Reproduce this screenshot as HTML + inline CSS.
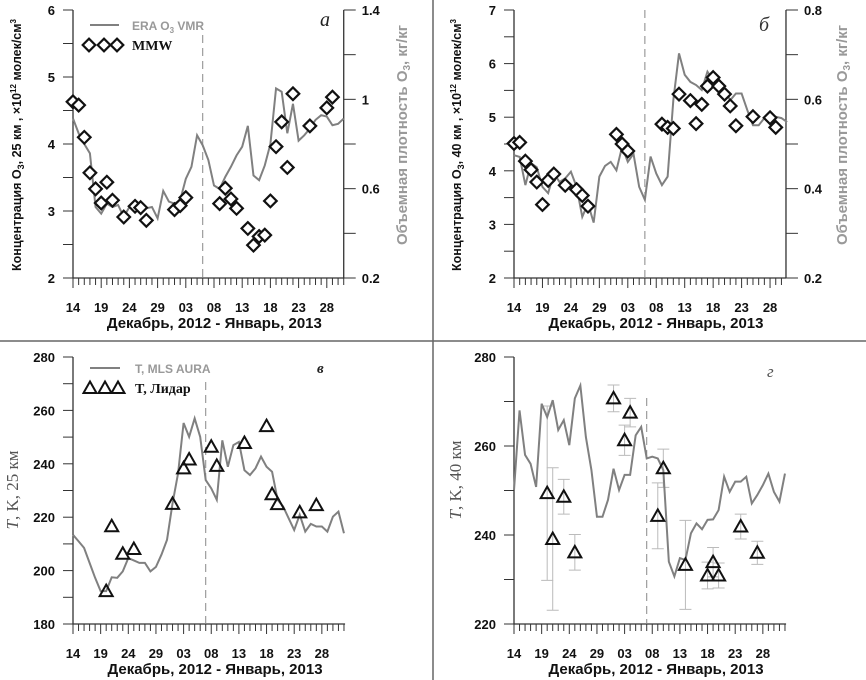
<!DOCTYPE html>
<html><head><meta charset="utf-8">
<style>
html,body{margin:0;padding:0;background:#fff;}
svg{display:block;font-family:"Liberation Sans",sans-serif;}
.tk{font-weight:bold;font-size:13px;fill:#111;}
.xt{font-weight:bold;font-size:15px;fill:#111;}
</style></head>
<body>
<svg id="fig" width="866" height="680" viewBox="0 0 866 680">
<line x1="433" y1="0" x2="433" y2="680" stroke="#666" stroke-width="1.5"/>
<line x1="0" y1="341" x2="866" y2="341" stroke="#666" stroke-width="1.5"/>
</svg>
<script>
// ---- Panel a data ----
const aDays = [0,1,2,3,4,5,6,7,9,11,12,13,18,19,20,26,27,28,29,31,32,33,34,35,36,37,38,39,42,45,46];
const aMMW = [4.63,4.58,4.10,3.57,3.33,3.12,3.43,3.16,2.91,3.07,3.05,2.86,3.02,3.08,3.2,3.11,3.34,3.18,3.04,2.74,2.49,2.62,2.64,3.15,3.96,4.33,3.65,4.75,4.27,4.54,4.7];
const aERA = [0.914,0.848,0.80,0.758,0.518,0.488,0.533,0.518,0.527,0.473,0.518,0.533,0.488,0.512,0.518,0.467,0.59,0.542,0.533,0.548,0.644,0.698,0.839,0.794,0.728,0.614,0.599,0.653,0.698,0.749,0.788,0.881,0.659,0.638,0.704,0.80,1.049,1.034,0.848,0.98,0.815,0.839,0.869,0.908,0.929,0.923,0.884,0.89,0.914];
// ---- Panel b data ----
const bDays = [0,1,2,3,4,5,6,7,9,11,12,13,18,19,20,26,27,28,29,31,32,33,34,35,36,37,38,39,42,45,46];
const bMMW = [4.51,4.53,4.18,4.02,3.79,3.37,3.82,3.94,3.73,3.65,3.54,3.34,4.68,4.50,4.37,4.87,4.81,4.79,5.43,5.31,4.88,5.24,5.58,5.74,5.58,5.43,5.21,4.84,5.01,4.99,4.81];
const bERA = [0.475,0.471,0.408,0.457,0.448,0.404,0.390,0.434,0.415,0.423,0.438,0.404,0.337,0.367,0.324,0.427,0.451,0.460,0.441,0.494,0.460,0.478,0.404,0.375,0.472,0.434,0.408,0.427,0.598,0.703,0.655,0.639,0.632,0.621,0.662,0.643,0.628,0.621,0.598,0.613,0.613,0.576,0.542,0.542,0.558,0.565,0.561,0.558,0.549];
// ---- Panel c data ----
const cMLS = [213.4,211,208.5,202.9,197.3,192.3,192.3,197.5,197.3,199.7,204.7,203.8,202.9,202.9,199.7,201.4,206,211.5,225.2,236.4,255.3,250.1,257,250.1,233.9,230.8,226.5,248.8,238.9,247,248.2,237.6,235.8,238.3,242.7,238.9,237,226.5,224,219.6,215.2,220.9,214.6,217.5,216.5,216.5,214.6,220.2,222.1,214];
const cDays = [6,7,9,11,18,20,21,25,26,31,35,36,37,41,44];
const cLidar = [192.3,216.6,206.3,208.1,225,238.3,241.6,246.4,239.2,247.8,254.1,228.6,224.9,221.8,224.5];
// ---- Panel d data ----
const dMLS = [250.1,268,258,256,250.8,269.5,266.5,270.3,263.6,265.8,260.2,270.7,273.6,262,254.6,244.1,244.1,247.9,254.9,250.1,253.5,253.5,262.4,264.3,257.2,257.6,257.2,254.6,234,230.7,234.8,234.4,240.4,242.6,241.3,243.4,243.5,245.6,253.1,249.7,252,252,253.1,247.1,249,251.2,253.8,249.7,247.5,253.8];
const dDays = [6,7,9,11,18,20,21,26,27,31,35,36,37,41,44];
const dLidar = [249.4,239.1,248.6,236.1,270.7,261.3,267.5,244.3,255,233.3,230.9,233.9,230.9,241.9,236];
const dErr = [19.6,16,3.9,4,3,3.4,3.2,7.4,4.3,10,3,3.3,2.8,2.8,2.6];
const xTickLabels = ["14","19","24","29","03","08","13","18","23","28"];

const NS = "http://www.w3.org/2000/svg";
const svg = document.getElementById("fig");
function el(tag, attrs, parent, text){
  const e = document.createElementNS(NS, tag);
  for (const k in attrs) e.setAttribute(k, attrs[k]);
  if (text !== undefined) e.textContent = text;
  (parent || svg).appendChild(e);
  return e;
}

function panel(cfg){
  const g = el("g", {});
  
  
  const X = d => cfg.x0 + d * cfg.dx;
  const Y = v => cfg.yb - (v - cfg.ymin) / (cfg.ymax - cfg.ymin) * (cfg.yb - cfg.yt);
  const YR = v => cfg.yb - (v - cfg.rmin) / (cfg.rmax - cfg.rmin) * (cfg.yb - cfg.yt);
  const xEnd = X(cfg.ndays);
  const ax = el("path", {d:`M${cfg.x0},${cfg.yt} V${cfg.yb} H${xEnd}`, stroke:"#333", "stroke-width":1.3, fill:"none"}, g);
  
  
  for (let d = 0; d <= cfg.ndays; d++){
    const major = d % 5 === 0;
    el("line", {x1:X(d), x2:X(d), y1:cfg.yb, y2:cfg.yb + (major?10:7), stroke:"#333", "stroke-width":1}, g);
  }
  xTickLabels.forEach((t,i)=>{
    const tx = el("text", {x:X(i*5), y:cfg.yb+34, "text-anchor":"middle", class:"tk"}, g, t);
    
    
  });
  const xt = el("text", {x:(cfg.x0 + xEnd)/2 + 6, y:cfg.yb+50, "text-anchor":"middle", class:"xt"}, g, "Декабрь, 2012 - Январь, 2013");
  
  
  for (let v = cfg.ymin; v <= cfg.ymax + 1e-9; v += cfg.ystep/2){
    const major = Math.abs(((v - cfg.ymin) / cfg.ystep) - Math.round((v - cfg.ymin) / cfg.ystep)) < 1e-6;
    el("line", {x1:cfg.x0 - 10, x2:cfg.x0, y1:Y(v), y2:Y(v), stroke:"#333", "stroke-width":1}, g);
    if (major){
      const t = el("text", {x:cfg.x0 - 18, y:Y(v)+5, "text-anchor":"end", class:"tk"}, g, cfg.yfmt(v));
      
      
    }
  }
  if (cfg.rmin !== undefined){
    el("line", {x1:xEnd, x2:xEnd, y1:cfg.yt, y2:cfg.yb, stroke:"#333", "stroke-width":1.3}, g);
    for (let v = cfg.rmin; v <= cfg.rmax + 1e-9; v += cfg.rstep/2){
      const k = (v - cfg.rmin)/cfg.rstep;
      const major = Math.abs(k - Math.round(k)) < 1e-6;
      el("line", {x1:xEnd, x2:xEnd+12, y1:YR(v), y2:YR(v), stroke:"#333", "stroke-width":1}, g);
      if (major){
        const t = el("text", {x:xEnd+18, y:YR(v)+5, class:"tk"}, g, cfg.rfmt(v));
        
        
      }
    }
  }
  const dl = el("line", {x1:X(cfg.dash), x2:X(cfg.dash), y1:cfg.dashTop, y2:cfg.yb, stroke:"#888", "stroke-width":1, "stroke-dasharray":"8,5"}, g);
  
  
  if (cfg.err){
    cfg.pDays.forEach((d,i)=>{
      const e = cfg.err[i], x = X(d);
      const eb = el("path", {d:`M${x},${Y(cfg.pts[i]-e)}V${Y(cfg.pts[i]+e)}M${x-6},${Y(cfg.pts[i]-e)}h12M${x-6},${Y(cfg.pts[i]+e)}h12`, stroke:"#bbb", "stroke-width":1, fill:"none"}, g);
      
      
    });
  }
  const ys = cfg.lineRight ? YR : Y;
  const pl = el("polyline", {points: cfg.line.map((v,i)=>X(i)+","+ys(v)).join(" "), fill:"none", stroke:"#808080", "stroke-width":2}, g);
  
  
  cfg.pDays.forEach((d,i)=>{
    const x = X(d), y = Y(cfg.pts[i]);
    const m = marker(g, cfg.marker, x, y);
    
    
  });
  return g;
}
function marker(g, type, x, y){
  if (type === "diamond")
    return el("path", {d:`M${x},${y-6.3}L${x+6.3},${y}L${x},${y+6.3}L${x-6.3},${y}Z`, fill:"#fff", stroke:"#111", "stroke-width":2.2}, g);
  return el("path", {d:`M${x},${y-6.5}L${x+6.5},${y+5}L${x-6.5},${y+5}Z`, fill:"none", stroke:"#111", "stroke-width":2}, g);
}

panel({name:"panel-a", x0:73, dx:5.64, ndays:48, yt:10, yb:278, ymin:2, ymax:6, ystep:1, yfmt:v=>String(v),
  rmin:0.2, rmax:1.4, rstep:0.4, rfmt:v=>(Math.abs(v-1)<1e-6?"1":v.toFixed(1)), dash:23, dashTop:35,
  line:aERA, lineRight:true, lineName:"era-o3-line", pDays:aDays, pts:aMMW, marker:"diamond", markerName:"mmw-point"});
panel({name:"panel-b", x0:514, dx:5.69, ndays:47.8, yt:10, yb:278, ymin:2, ymax:7, ystep:1, yfmt:v=>String(v),
  rmin:0.2, rmax:0.8, rstep:0.2, rfmt:v=>v.toFixed(1), dash:23, dashTop:10,
  line:bERA, lineRight:true, lineName:"era-o3-line", pDays:bDays, pts:bMMW, marker:"diamond", markerName:"mmw-point"});
panel({name:"panel-c", x0:73, dx:5.53, ndays:49.2, yt:357, yb:624, ymin:180, ymax:280, ystep:20, yfmt:v=>String(Math.round(v)),
  dash:24, dashTop:382, line:cMLS, lineName:"mls-temperature-line", pDays:cDays, pts:cLidar, marker:"tri", markerName:"lidar-point"});
panel({name:"panel-d", x0:514, dx:5.53, ndays:49.2, yt:357, yb:624, ymin:220, ymax:280, ystep:20, yfmt:v=>String(Math.round(v)),
  dash:24, dashTop:398, line:dMLS, lineName:"mls-temperature-line", pDays:dDays, pts:dLidar, err:dErr, marker:"tri", markerName:"lidar-point"});
</script>
<script>
const T = (attrs, txt, name) => {
  const e = document.createElementNS(NS, "text");
  for (const k in attrs) e.setAttribute(k, attrs[k]);
  e.innerHTML = txt;
  
  
  svg.appendChild(e);
  return e;
};
T({x:0,y:0,transform:"translate(21,145) rotate(-90)","text-anchor":"middle","font-size":"12.5","font-weight":"bold",fill:"#111"},
  'Концентрация O<tspan font-size="9" dy="3">3</tspan><tspan dy="-3">, 25 км , ×10</tspan><tspan font-size="8" dy="-5">12</tspan><tspan dy="5"> молек/см</tspan><tspan font-size="8" dy="-5">3</tspan>', "y-axis-title-left-a");
T({x:0,y:0,transform:"translate(407,135) rotate(-90)","text-anchor":"middle","font-size":"15","font-weight":"bold",fill:"#999"},
  'Объемная плотность O<tspan font-size="10" dy="3">3</tspan><tspan dy="-3">, кг/кг</tspan>', "y-axis-title-right-a");
T({x:0,y:0,transform:"translate(461,145) rotate(-90)","text-anchor":"middle","font-size":"12.5","font-weight":"bold",fill:"#111"},
  'Концентрация O<tspan font-size="9" dy="3">3</tspan><tspan dy="-3">, 40 км , ×10</tspan><tspan font-size="8" dy="-5">12</tspan><tspan dy="5"> молек/см</tspan><tspan font-size="8" dy="-5">3</tspan>', "y-axis-title-left-b");
T({x:0,y:0,transform:"translate(847,135) rotate(-90)","text-anchor":"middle","font-size":"15","font-weight":"bold",fill:"#999"},
  'Объемная плотность O<tspan font-size="10" dy="3">3</tspan><tspan dy="-3">, кг/кг</tspan>', "y-axis-title-right-b");
T({x:0,y:0,transform:"translate(18,490) rotate(-90)","text-anchor":"middle","font-size":"17","font-family":"Liberation Serif, serif",fill:"#555"},
  '<tspan font-style="italic">T</tspan>, K, 25 км', "y-axis-title-c");
T({x:0,y:0,transform:"translate(461,480) rotate(-90)","text-anchor":"middle","font-size":"17","font-family":"Liberation Serif, serif",fill:"#555"},
  '<tspan font-style="italic">T</tspan>, K, 40 км', "y-axis-title-d");
T({x:320,y:26,"font-size":"20","font-style":"italic","font-family":"Liberation Serif, serif",fill:"#222"},'a',"panel-label-a");
T({x:759,y:31,"font-size":"20","font-style":"italic","font-family":"Liberation Serif, serif",fill:"#333"},'б',"panel-label-b");
T({x:317,y:373,"font-size":"15","font-style":"italic","font-weight":"bold","font-family":"Liberation Serif, serif",fill:"#222"},'в',"panel-label-c");
T({x:767,y:377,"font-size":"17","font-style":"italic","font-family":"Liberation Serif, serif",fill:"#555"},'г',"panel-label-d");
const L = (tag, attrs, name) => {
  const e = document.createElementNS(NS, tag);
  for (const k in attrs) e.setAttribute(k, attrs[k]);
  
  
  svg.appendChild(e);
};
L("line",{x1:90,x2:119,y1:25,y2:25,stroke:"#808080","stroke-width":2},"legend-era-line");
T({x:132,y:30,"font-size":"12","font-weight":"bold",fill:"#999"},'ERA O<tspan font-size="8" dy="3">3</tspan><tspan dy="-3"> VMR</tspan>',"legend-era-label");
[89,104,117].forEach(x=>L("path",{d:`M${x},${38.7}L${x+6.3},45L${x},51.3L${x-6.3},45Z`,fill:"#fff",stroke:"#111","stroke-width":2.2},"legend-mmw-marker"));
T({x:132,y:50,"font-size":"14","font-weight":"bold","font-family":"Liberation Serif, serif",fill:"#111"},'MMW',"legend-mmw-label");
L("line",{x1:90,x2:120,y1:368,y2:368,stroke:"#808080","stroke-width":2},"legend-mls-line");
T({x:135,y:373,"font-size":"12","font-weight":"bold",fill:"#999"},'T, MLS AURA',"legend-mls-label");
[90,105,118].forEach(x=>L("path",{d:`M${x},381.5L${x+6.5},393L${x-6.5},393Z`,fill:"none",stroke:"#111","stroke-width":2},"legend-lidar-marker"));
T({x:135,y:393,"font-size":"14","font-weight":"bold","font-family":"Liberation Serif, serif",fill:"#111"},'T, Лидар',"legend-lidar-label");
</script>
</body></html>
